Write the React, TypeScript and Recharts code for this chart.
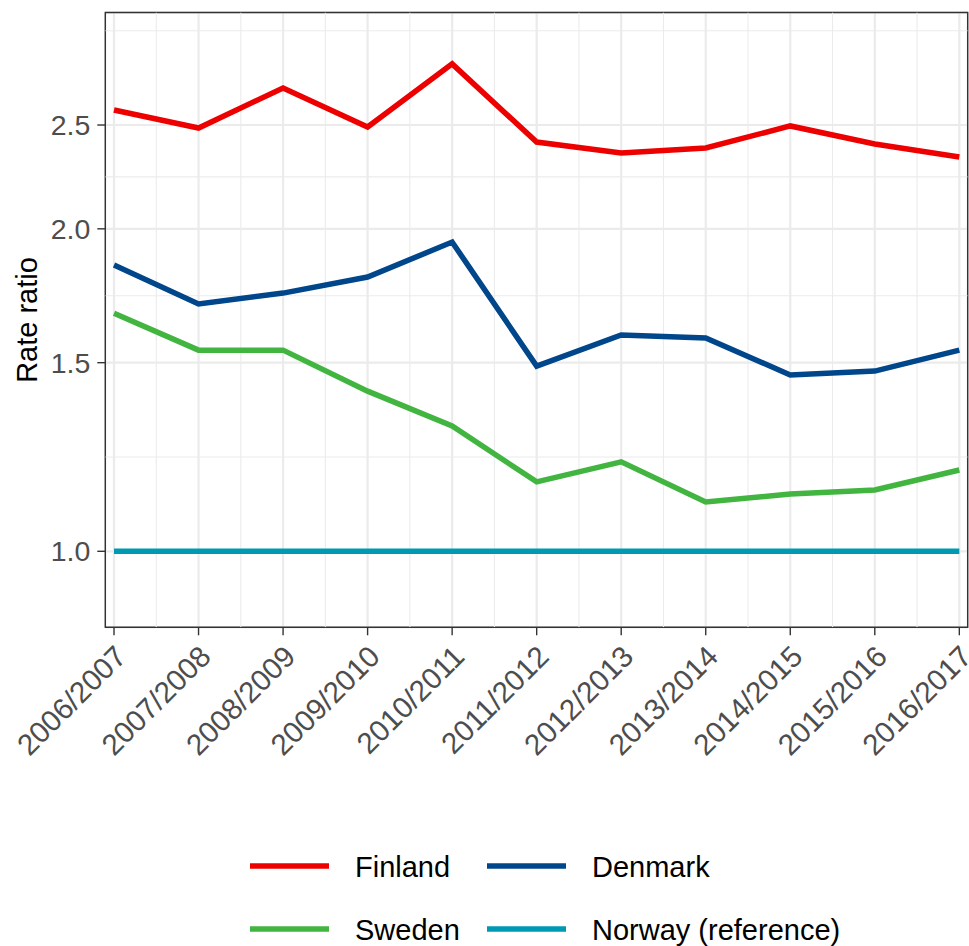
import React from 'react';
import {
  LineChart,
  Line,
  XAxis,
  YAxis,
  CartesianGrid,
  ReferenceLine,
  ReferenceArea,
  Legend,
} from 'recharts';

const seasons = [
  '2006/2007', '2007/2008', '2008/2009', '2009/2010', '2010/2011', '2011/2012',
  '2012/2013', '2013/2014', '2014/2015', '2015/2016', '2016/2017',
];
const finland = [2.582, 2.484, 2.707, 2.489, 2.851, 2.41, 2.354, 2.38, 2.495, 2.4, 2.334];
const denmark = [1.85, 1.702, 1.742, 1.803, 1.944, 1.489, 1.592, 1.582, 1.461, 1.473, 1.541];
const sweden = [1.668, 1.541, 1.541, 1.411, 1.309, 1.161, 1.212, 1.112, 1.131, 1.141, 1.191];
const norway = [1, 1, 1, 1, 1, 1, 1, 1, 1, 1, 1];

const yTicks = [1.0, 1.5, 2.0, 2.5];
const yMinor = [1.2247, 1.7321, 2.2361, 3.0619];
const xTicks = [0, 1, 2, 3, 4, 5, 6, 7, 8, 9, 10];
const xMinor = [0.5, 1.5, 2.5, 3.5, 4.5, 5.5, 6.5, 7.5, 8.5, 9.5];

const X_DOMAIN: [number, number] = [-0.103, 10.099];
const Y_DOMAIN: [number, number] = [0.8493, 3.184];

const FONT = '"Liberation Sans", Arial, Helvetica, sans-serif';

const series = [
  { key: 'Finland', label: 'Finland', color: '#ED0000', values: finland },
  { key: 'Denmark', label: 'Denmark', color: '#00468B', values: denmark },
  { key: 'Sweden', label: 'Sweden', color: '#42B540', values: sweden },
  { key: 'Norway', label: 'Norway (reference)', color: '#0099B4', values: norway },
];

const data = seasons.map((s, i) => {
  const row: Record<string, number | string> = { idx: i, season: s };
  series.forEach((sr) => {
    row[sr.key] = sr.values[i];
  });
  return row;
});

const XTick = (props: any) => {
  const { x, y, payload } = props;
  const label = seasons[payload.value] ?? '';
  const ax = x - 1;
  const ay = y + 6;
  return (
    <text
      x={ax}
      y={ay}
      dy="0.72em"
      textAnchor="end"
      transform={`rotate(-45, ${ax}, ${ay})`}
      fill="#4D4D4D"
      fontSize={29.5}
      fontFamily={FONT}
    >
      {label}
    </text>
  );
};

const LegendContent = () => {
  const rows = [
    [series[0], series[1]],
    [series[2], series[3]],
  ];
  const rowCenters = [40, 103];
  const rowBaselines = [51, 114];
  const cols = [
    { lineX: 250, textX: 355 },
    { lineX: 487, textX: 592 },
  ];
  return (
    <svg width={969} height={120} style={{ display: 'block' }}>
      {rows.map((row, r) =>
        row.map((s, c) => (
          <g key={s.key}>
            <line
              x1={cols[c].lineX}
              x2={cols[c].lineX + 79}
              y1={rowCenters[r]}
              y2={rowCenters[r]}
              stroke={s.color}
              strokeWidth={5.5}
            />
            <text
              x={cols[c].textX}
              y={rowBaselines[r]}
              fontSize={29}
              fontFamily={FONT}
              fill="#000000"
            >
              {s.label}
            </text>
          </g>
        ))
      )}
    </svg>
  );
};

const YLabel = () => (
  <text
    x={37}
    y={320}
    transform="rotate(-90, 37, 320)"
    textAnchor="middle"
    fontSize={29}
    fontFamily={FONT}
    fill="#000000"
  >
    Rate ratio
  </text>
);

export default function App() {
  return (
    <div style={{ position: 'absolute', left: 0, top: 0, width: 969, height: 946, background: '#fff' }}>
      <LineChart
        width={969}
        height={946}
        data={data}
        margin={{ top: 12.5, right: 1.3, bottom: 0, left: 0 }}
      >
        <CartesianGrid stroke="#EBEBEB" strokeWidth={2.2} />
        {yMinor.map((v) => (
          <ReferenceLine key={`ym${v}`} y={v} stroke="#EBEBEB" strokeWidth={1.1} ifOverflow="hidden" />
        ))}
        {xMinor.map((v) => (
          <ReferenceLine key={`xm${v}`} x={v} stroke="#EBEBEB" strokeWidth={1.1} ifOverflow="hidden" />
        ))}
        <XAxis
          dataKey="idx"
          type="number"
          domain={X_DOMAIN}
          ticks={xTicks}
          interval={0}
          allowDataOverflow
          height={198.7}
          tickSize={8}
          tickLine={{ stroke: '#333333', strokeWidth: 1.4 }}
          axisLine={false}
          tick={<XTick />}
        />
        <YAxis
          type="number"
          scale="log"
          domain={Y_DOMAIN}
          ticks={yTicks}
          interval={0}
          allowDataOverflow
          width={105.3}
          tickSize={8}
          tickMargin={7}
          tickLine={{ stroke: '#333333', strokeWidth: 1.4 }}
          axisLine={false}
          tick={{ fill: '#4D4D4D', fontSize: 28.5, fontFamily: FONT }}
          tickFormatter={(v: number) => v.toFixed(1)}
          label={<YLabel />}
        />
        <Legend
          verticalAlign="bottom"
          height={120}
          content={<LegendContent />}
          wrapperStyle={{ left: 0, bottom: 0, width: 969, height: 120 }}
        />
        {series.map((s) => (
          <Line
            key={s.key}
            type="linear"
            dataKey={s.key}
            stroke={s.color}
            strokeWidth={5.5}
            dot={false}
            activeDot={false}
            isAnimationActive={false}
          />
        ))}
        <ReferenceArea
          x1={X_DOMAIN[0]}
          x2={X_DOMAIN[1]}
          y1={Y_DOMAIN[0]}
          y2={Y_DOMAIN[1]}
          fill="none"
          fillOpacity={0}
          stroke="#333333"
          strokeWidth={1.4}
          ifOverflow="visible"
        />
      </LineChart>
    </div>
  );
}
